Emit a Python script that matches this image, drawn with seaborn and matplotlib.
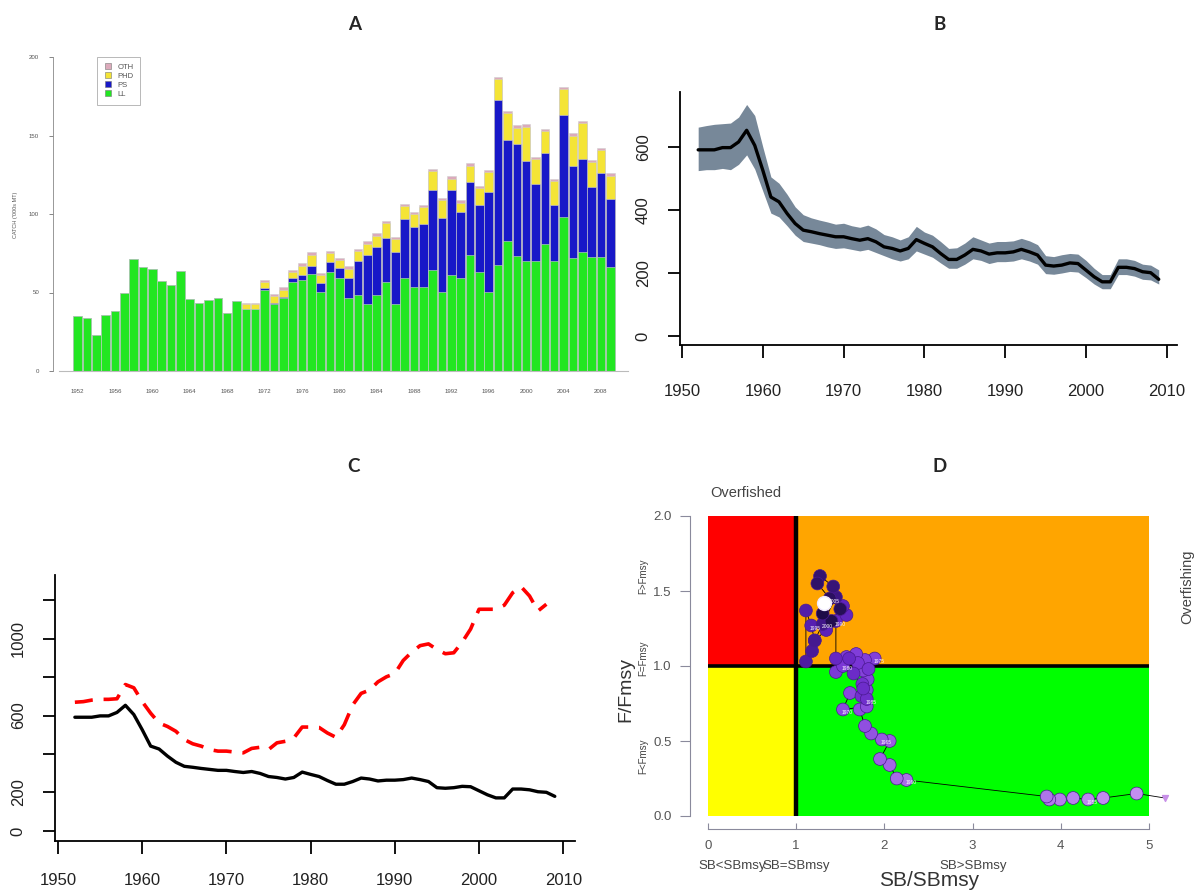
import numpy as np
import pandas as pd
import seaborn as sns
import matplotlib
matplotlib.use("Agg")
import matplotlib.pyplot as plt
from matplotlib.lines import Line2D
from matplotlib.patches import Rectangle

# ====================== DATA ============================================== #

# panel A : catch by gear ('000s MT)
catch_years = [str(y) for y in range(1952, 2010)]
catch_ll = [34.8, 33.8, 23.2, 35.9, 38.0, 49.6, 71.3, 66.2, 65.0, 57.4,
            54.9, 63.7, 46.0, 43.0, 45.0, 46.8, 37.0, 44.7, 39.7, 39.7,
            51.7, 42.6, 46.4, 57.0, 58.0, 62.0, 50.6, 63.3, 59.5, 46.4,
            48.5, 42.6, 48.5, 57.0, 42.6, 59.0, 53.8, 53.8, 64.3, 50.6,
            61.0, 59.0, 73.8, 63.3, 50.6, 67.5, 82.7, 73.4, 70.0, 70.0,
            80.6, 70.0, 98.0, 72.0, 76.0, 72.8, 72.8, 66.0]
catch_ps = [0, 0, 0, 0, 0, 0, 0, 0, 0, 0,
            0, 0, 0, 0, 0, 0, 0, 0, 0, 0,
            1.0, 1.0, 1.0, 2.0, 3.0, 5.0, 5.3, 6.3, 6.0, 12.7,
            21.5, 31.0, 30.6, 28.0, 33.0, 38.0, 38.0, 40.0, 51.0, 47.0,
            54.0, 42.0, 46.4, 42.6, 63.3, 105.0, 64.6, 71.0, 64.0, 49.0,
            58.0, 36.0, 64.8, 58.6, 59.0, 44.3, 53.0, 43.7]
catch_phd = [0, 0, 0, 0, 0, 0, 0, 0, 0, 0,
             0, 0, 0, 0, 0, 0, 0, 0, 3.2, 3.2,
             4.0, 4.0, 4.3, 4.0, 6.0, 7.0, 5.0, 5.3, 5.0, 6.0,
             6.3, 7.4, 7.0, 9.0, 8.5, 8.0, 8.0, 10.5, 12.0, 11.0,
             7.4, 6.3, 10.5, 10.5, 12.7, 13.5, 16.9, 10.5, 21.7, 15.8,
             14.0, 14.8, 16.5, 19.4, 22.8, 15.8, 15.0, 14.6]
catch_oth = [0, 0, 0, 0, 0, 0, 0, 0, 0, 0,
             0, 0, 0, 0, 0, 0, 0, 0, 0.5, 0.5,
             1.5, 1.5, 1.5, 1.5, 1.5, 1.5, 1.5, 1.5, 1.5, 1.5,
             1.5, 1.5, 1.5, 1.5, 1.5, 1.5, 1.5, 1.5, 1.5, 1.5,
             1.5, 1.5, 1.5, 1.5, 1.5, 1.5, 1.5, 1.5, 1.5, 1.5,
             1.5, 1.5, 1.5, 1.5, 1.5, 1.5, 1.5, 1.5]
gear_names = ["OTH", "PHD", "PS", "LL"]

# panels B and C : biomass with confidence band, plus red dashed series
years = list(range(1952, 2010))
biomass = [591, 591, 591, 598, 598, 616, 653, 605, 526, 441,
           426, 389, 357, 336, 331, 325, 320, 315, 315, 309,
           304, 309, 299, 283, 278, 270, 278, 306, 294, 283,
           262, 243, 243, 257, 275, 270, 260, 264, 264, 267,
           275, 267, 257, 225, 222, 225, 232, 230, 209, 188,
           172, 172, 218, 218, 214, 204, 201, 180]
biomass_hi = [663, 668, 672, 674, 676, 695, 735, 700, 600, 505,
              485, 450, 410, 385, 375, 368, 362, 355, 358, 350,
              345, 352, 340, 322, 315, 305, 315, 348, 330, 320,
              300, 278, 280, 295, 315, 305, 295, 300, 300, 302,
              310, 302, 290, 255, 252, 258, 262, 260, 240, 215,
              195, 195, 245, 245, 240, 228, 225, 210]
biomass_lo = [525, 528, 528, 532, 528, 545, 575, 530, 460, 390,
              378, 350, 320, 300, 295, 290, 283, 278, 280, 275,
              270, 275, 265, 255, 245, 238, 245, 270, 260, 250,
              232, 215, 215, 228, 245, 240, 230, 236, 236, 238,
              245, 238, 228, 198, 196, 200, 205, 203, 185, 165,
              150, 150, 195, 195, 190, 180, 178, 165]
red_years = list(range(1952, 2009))
red_series = [669, 672, 680, 684, 684, 687, 761, 744, 672, 612,
              561, 543, 518, 475, 453, 441, 423, 415, 415, 410,
              406, 429, 435, 423, 458, 466, 483, 540, 540, 538,
              509, 487, 552, 655, 715, 732, 775, 801, 818, 886,
              929, 963, 972, 943, 921, 926, 981, 1049, 1152, 1152,
              1152, 1173, 1238, 1269, 1221, 1143, 1178]

# panel D : Kobe trajectory
kobe_years = list(range(1952, 2010))
kobe_sb = [5.18, 4.86, 4.48, 4.31, 4.14, 3.99, 3.87, 3.84, 2.25, 2.14,
           2.06, 1.95, 2.06, 1.97, 1.85, 1.78, 1.72, 1.80, 1.53, 1.61,
           1.80, 1.81, 1.76, 1.89, 1.78, 1.68, 1.57, 1.45, 1.53, 1.70,
           1.82, 1.75, 1.74, 1.80, 1.76, 1.65, 1.60, 1.45, 1.45, 1.57,
           1.53, 1.34, 1.21, 1.17, 1.11, 1.11, 1.18, 1.21, 1.30, 1.45,
           1.42, 1.27, 1.24, 1.38, 1.50, 1.40, 1.30, 1.32]
kobe_f = [0.12, 0.15, 0.12, 0.11, 0.12, 0.11, 0.11, 0.13, 0.24, 0.25,
          0.34, 0.38, 0.50, 0.51, 0.55, 0.60, 0.71, 0.73, 0.71, 0.82,
          0.84, 0.91, 0.97, 1.05, 1.04, 1.08, 1.06, 0.96, 1.00, 1.02,
          0.98, 0.88, 0.80, 0.78, 0.85, 0.95, 1.05, 1.05, 1.30, 1.34,
          1.40, 1.24, 1.17, 1.27, 1.37, 1.03, 1.10, 1.17, 1.28, 1.46,
          1.53, 1.60, 1.55, 1.45, 1.38, 1.30, 1.35, 1.42]

# ====================== LAYOUT HELPERS ==================================== #

W, H = 1198, 892
sns.set_style("ticks")
plt.rcParams['font.family'] = ['Liberation Sans', 'DejaVu Sans']

fig = plt.figure(figsize=(W / 100, H / 100), dpi=100)


def add_ax(l, t, r, b):
    return fig.add_axes([l / W, 1 - b / H, (r - l) / W, (b - t) / H])


def ftext(x, y, s, **kw):
    fig.text(x / W, 1 - y / H, s, **kw)


for lab, (x, y) in zip("ABCD", [(355, 25), (940, 25), (353, 467), (940, 467)]):
    ftext(x, y, lab, fontsize=13.5, fontweight="bold", family="Lato",
          ha="center", va="center")

# ====================== A : STACKED CATCH BARS ============================ #

col_ll, col_ps, col_phd, col_oth = "#22e622", "#1818c8", "#f4e436", "#dcaabb"
dfA = pd.DataFrame({"year": catch_years, "ll": catch_ll, "ps": catch_ps,
                    "phd": catch_phd, "oth": catch_oth})
dfA["c2"] = dfA.ll + dfA.ps
dfA["c3"] = dfA.c2 + dfA.phd
dfA["c4"] = dfA.c3 + dfA.oth

axA = add_ax(53, 57, 628, 371)
for col, color in [("c4", col_oth), ("c3", col_phd), ("c2", col_ps), ("ll", col_ll)]:
    sns.barplot(data=dfA, x="year", y=col, color=color, saturation=1,
                width=0.92, edgecolor="#d0d0d0", linewidth=0.4, ax=axA)
axA.set_xlim(-2.64, 58.9)
axA.set_ylim(0, 200)
axA.set_xticks(range(0, 58, 4))
axA.set_xticklabels(catch_years[::4])
axA.set_yticks([0, 50, 100, 150, 200])
axA.tick_params(axis="x", length=0, pad=13, labelsize=4.4, colors="#555555")
axA.tick_params(axis="y", length=3, width=0.5, pad=7, labelsize=4.4,
                colors="#555555")
axA.set_xlabel("")
axA.set_ylabel("")
sns.despine(ax=axA)
axA.spines["left"].set_color("#888888")
axA.spines["left"].set_linewidth(0.6)
axA.spines["bottom"].set_color("#bbbbbb")
axA.spines["bottom"].set_bounds(-2.0, 58.9)
ftext(15, 215, "CATCH ('000s MT)", rotation=90, fontsize=4, color="#555555",
      ha="center", va="center")
handles = [Line2D([], [], ls="", marker="s", markersize=3.8, markerfacecolor=c,
                  markeredgecolor="#777777", markeredgewidth=0.4)
           for c in [col_oth, col_phd, col_ps, col_ll]]
leg = axA.legend(handles, gear_names, loc="upper left",
                 bbox_to_anchor=(93 / W, 1 - 53 / H),
                 bbox_transform=fig.transFigure, fontsize=5.5,
                 frameon=True, fancybox=False, edgecolor="#999999",
                 borderpad=0.9, handlelength=1.0, handletextpad=0.8,
                 labelspacing=0.2)
leg.get_frame().set_linewidth(0.6)
for t in leg.get_texts():
    t.set_color("#555555")

# ====================== B : BIOMASS WITH BAND ============================= #

axB = add_ax(680, 92, 1177, 345)
axB.fill_between(years, biomass_lo, biomass_hi, color="#778899", lw=0, zorder=1)
sns.lineplot(x=years, y=biomass, color="black", lw=2.4, ax=axB, zorder=3)
axB.set_xlim(1949.75, 2011.26)
axB.set_ylim(-28.6, 774.6)
axB.set_xticks(range(1950, 2011, 10))
axB.set_yticks([0, 200, 400, 600])

# ====================== C : TWO SERIES ==================================== #

axC = add_ax(55, 575, 575, 841)
sns.lineplot(x=years, y=biomass, color="black", lw=2.4, ax=axC)
sns.lineplot(x=red_years, y=red_series, color="red", lw=2.6, ax=axC)
axC.lines[-1].set_dashes([5, 3])
axC.set_xlim(1949.64, 2011.4)
axC.set_ylim(-52, 1330)
axC.set_xticks(range(1950, 2011, 10))
axC.set_yticks(range(0, 1201, 200))
axC.set_yticklabels(["0", "200", "", "600", "", "1000", ""])

for ax in (axB, axC):
    sns.despine(ax=ax)
    for s in ("left", "bottom"):
        ax.spines[s].set_linewidth(1.3)
        ax.spines[s].set_color("black")
    ax.tick_params(axis="both", length=9, width=1.3, labelsize=12,
                   colors="black", labelcolor="#222222")
    ax.tick_params(axis="y", pad=12, labelrotation=90)
    for t in ax.get_yticklabels():
        t.set_va("center")
axB.tick_params(axis="x", pad=19)
axC.tick_params(axis="x", pad=14)

# ====================== D : KOBE PLOT ===================================== #

axD = add_ax(708, 516, 1149, 816)
axD.add_patch(Rectangle((0, 1), 1, 1, color="#ff0000", lw=0, zorder=0))
axD.add_patch(Rectangle((1, 1), 4, 1, color="#ffa500", lw=0, zorder=0))
axD.add_patch(Rectangle((0, 0), 1, 1, color="#ffff00", lw=0, zorder=0))
axD.add_patch(Rectangle((1, 0), 4, 1, color="#00ff00", lw=0, zorder=0))
axD.axvline(1, color="black", lw=3.2, zorder=1)
axD.axhline(1, color="black", lw=2.6, zorder=1)

sns.lineplot(x=kobe_sb, y=kobe_f, sort=False, estimator=None, color="black",
             lw=0.6, ax=axD, zorder=2, clip_on=False)
purples = sns.blend_palette(["#c48ef0", "#9050e0", "#7a36d6", "#5a20b8",
                             "#1e0c48"], as_cmap=True)
sns.scatterplot(x=kobe_sb[1:-1], y=kobe_f[1:-1], hue=kobe_years[1:-1],
                palette=purples, legend=False, s=85, edgecolor="#4a1a90",
                linewidth=0.5, ax=axD, zorder=3)
axD.scatter(kobe_sb[0], kobe_f[0], s=18, marker="v", color="#c890e8",
            zorder=3, clip_on=False)
axD.scatter(kobe_sb[-1], kobe_f[-1], s=100, color="white", edgecolor="#f0e8ff",
            zorder=4)
for yr, sb, f in zip(kobe_years, kobe_sb, kobe_f):
    if yr % 5 == 0:
        axD.text(sb + 0.05, f - 0.02, str(yr), fontsize=3.5, color="white",
                 ha="center", va="center", zorder=5)

axD.set_xlim(0, 5)
axD.set_ylim(0, 2)
axD.set_xticks(range(0, 6))
axD.set_yticks([0, 0.5, 1.0, 1.5, 2.0])
axD.set_yticklabels(["0.0", "0.5", "1.0", "1.5", "2.0"])
axD.set_xlabel("")
axD.set_ylabel("")
sns.despine(ax=axD)
axD.spines["left"].set_position(("outward", 13))
axD.spines["bottom"].set_position(("outward", 9.5))
for s in ("left", "bottom"):
    axD.spines[s].set_color("#8a8a9c")
    axD.spines[s].set_linewidth(0.8)
axD.tick_params(axis="x", direction="in", length=4, width=0.8, pad=8,
                labelsize=9.5, colors="#8a8a9c", labelcolor="#555555")
axD.tick_params(axis="y", direction="out", length=7, width=0.8, pad=6,
                labelsize=9.5, colors="#8a8a9c", labelcolor="#555555")

ftext(710, 493, "Overfished", fontsize=10.5, color="#444444", ha="left",
      va="center")
ftext(1187, 587, "Overfishing", fontsize=10.5, color="#444444", rotation=90,
      ha="center", va="center")
for x, s in [(732, "SB<SBmsy"), (796, "SB=SBmsy"), (973, "SB>SBmsy")]:
    ftext(x, 866, s, fontsize=9.5, color="#444444", ha="center", va="center")
for y, s in [(576, "F>Fmsy"), (658, "F=Fmsy"), (756, "F<Fmsy")]:
    ftext(643, y, s, fontsize=7, color="#444444", rotation=90, ha="center",
          va="center")
ftext(929, 880, "SB/SBmsy", fontsize=15, color="#333333", ha="center",
      va="center")
ftext(626, 690, "F/Fmsy", fontsize=14, color="#333333", rotation=90,
      ha="center", va="center")

fig.savefig("out.png", dpi=100)
